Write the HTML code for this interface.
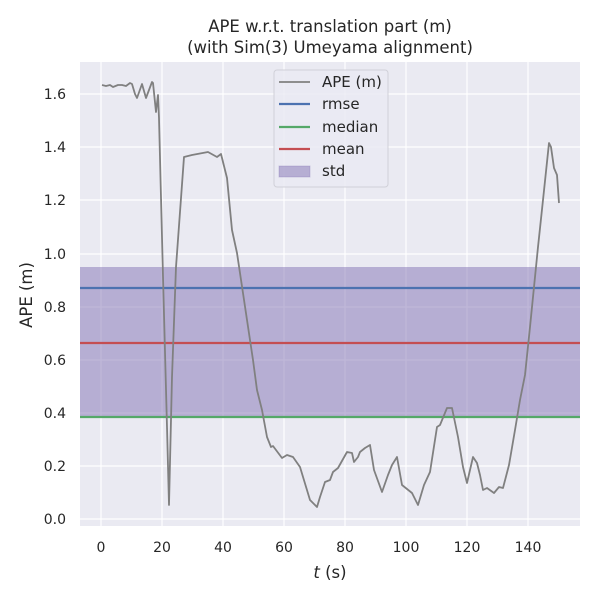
<!DOCTYPE html>
<html><head><meta charset="utf-8"><style>body{margin:0;background:#fff}</style></head><body>
<svg width="600" height="600" xmlns="http://www.w3.org/2000/svg" font-family="DejaVu Sans, Liberation Sans, sans-serif">
<rect width="600" height="600" fill="#fff"/>
<rect x="80" y="62" width="500" height="464" fill="#eaeaf2"/>
<g stroke="#fff" stroke-width="1.2">
<line x1="101" y1="62" x2="101" y2="526"/><line x1="162" y1="62" x2="162" y2="526"/><line x1="223" y1="62" x2="223" y2="526"/><line x1="284" y1="62" x2="284" y2="526"/><line x1="345" y1="62" x2="345" y2="526"/><line x1="406" y1="62" x2="406" y2="526"/><line x1="467" y1="62" x2="467" y2="526"/><line x1="528" y1="62" x2="528" y2="526"/>
<line x1="80" y1="519" x2="580" y2="519"/><line x1="80" y1="466" x2="580" y2="466"/><line x1="80" y1="413" x2="580" y2="413"/><line x1="80" y1="360" x2="580" y2="360"/><line x1="80" y1="307" x2="580" y2="307"/><line x1="80" y1="254" x2="580" y2="254"/><line x1="80" y1="200" x2="580" y2="200"/><line x1="80" y1="147" x2="580" y2="147"/><line x1="80" y1="94" x2="580" y2="94"/>
</g>
<rect x="80" y="267" width="500" height="150" fill="#8172b3" fill-opacity="0.5"/>
<line x1="80" y1="288" x2="580" y2="288" stroke="#4c72b0" stroke-width="2.2"/>
<line x1="80" y1="343" x2="580" y2="343" stroke="#c44e52" stroke-width="2.2"/>
<line x1="80" y1="417" x2="580" y2="417" stroke="#55a868" stroke-width="2.2"/>
<polyline fill="none" stroke="#808080" stroke-width="1.8" stroke-linejoin="round" points="102,85 106,86 110,85 113,87 118,85 122,85 126,86 130,83 132,84 135,94 137,98 142,84 146,98 152,82 153,83 156,112 158,95 159,118 163,277 167,427 169,505 172,377 176,267 184,157 192,155 208,152 217,157 221,154 227,178 232,230 237,253 250,340 253,360 257,390 262,410 267,437 271,447 273,446 282,458 287,455 293,457 300,467 310,500 317,507 320,497 325,482 330,480 333,472 338,468 347,452 352,453 354,462 358,457 360,452 365,448 370,445 374,470 382,492 388,475 392,465 397,457 402,485 412,493 418,505 424,485 430,472 437,427 440,425 447,408 452,408 458,437 463,467 467,483 473,457 477,463 480,475 483,490 487,488 494,493 499,487 503,488 509,465 515,430 520,400 525,375 530,327 538,247 543,200 549,143 551,147 554,168 557,175 559,203"/>
<g font-size="14" fill="#262626">
<g text-anchor="end"><text x="66" y="524">0.0</text><text x="66" y="471">0.2</text><text x="66" y="418">0.4</text><text x="66" y="365">0.6</text><text x="66" y="312">0.8</text><text x="66" y="259">1.0</text><text x="66" y="205">1.2</text><text x="66" y="152">1.4</text><text x="66" y="99">1.6</text></g>
<g text-anchor="middle"><text x="101" y="552">0</text><text x="162" y="552">20</text><text x="223" y="552">40</text><text x="284" y="552">60</text><text x="345" y="552">80</text><text x="406" y="552">100</text><text x="467" y="552">120</text><text x="528" y="552">140</text></g>
</g>
<text x="330" y="578" font-size="16.5" text-anchor="middle" fill="#262626"><tspan font-style="italic">t</tspan> (s)</text>
<text transform="translate(32,295) rotate(-90)" font-size="16.5" text-anchor="middle" fill="#262626">APE (m)</text>
<text x="330" y="32" font-size="16.5" text-anchor="middle" fill="#262626">APE w.r.t. translation part (m)</text>
<text x="330" y="53" font-size="16.5" text-anchor="middle" fill="#262626">(with Sim(3) Umeyama alignment)</text>
<rect x="274" y="70" width="114" height="117" rx="3" fill="#eaeaf2" fill-opacity="0.8" stroke="#d0d0d8"/>
<g stroke-width="2.2"><line x1="279" y1="82" x2="310" y2="82" stroke="#808080" stroke-width="1.8"/><line x1="279" y1="104" x2="310" y2="104" stroke="#4c72b0"/><line x1="279" y1="127" x2="310" y2="127" stroke="#55a868"/><line x1="279" y1="149" x2="310" y2="149" stroke="#c44e52"/></g>
<rect x="279" y="166" width="31" height="11" fill="#8172b3" fill-opacity="0.5" stroke="#8172b3" stroke-opacity="0.3"/>
<g font-size="15" fill="#262626"><text x="322" y="87">APE (m)</text><text x="322" y="109">rmse</text><text x="322" y="132">median</text><text x="322" y="154">mean</text><text x="322" y="176">std</text></g>
</svg>
</body></html>
